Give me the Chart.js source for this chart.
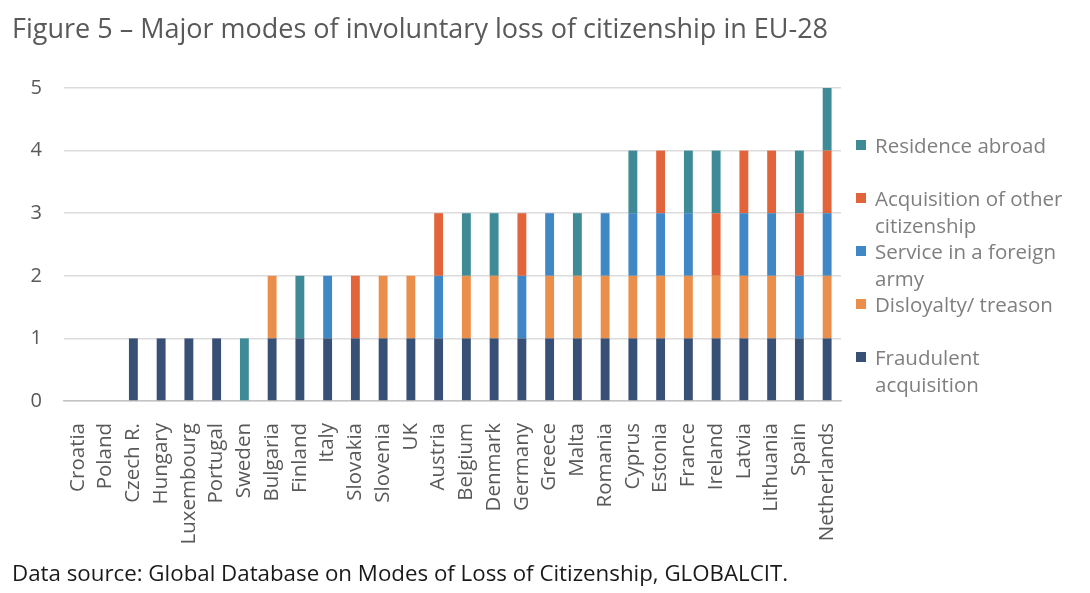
<!DOCTYPE html>
<html lang="en">
<head>
    <meta charset="UTF-8">
    <title>Figure 5 – Major modes of involuntary loss of citizenship in EU-28</title>
    <script src="https://cdn.jsdelivr.net/npm/chart.js"></script>
    <style>
        html, body {
            margin: 0;
            padding: 0;
            background: #ffffff;
            font-family: 'Open Sans', sans-serif;
        }
        .frame {
            position: relative;
            width: 1090px;
            height: 593px;
            overflow: hidden;
        }
        .frame canvas {
            position: absolute;
            left: 0;
            top: 0;
        }
        .title {
            position: absolute;
            left: 12px;
            top: 10px;
            font-size: 27px;
            line-height: 36px;
            color: #595959;
            white-space: nowrap;
        }
        .source {
            position: absolute;
            left: 12px;
            top: 558px;
            font-size: 22.3px;
            line-height: 30px;
            color: #1a1a1a;
            white-space: nowrap;
        }
        .legend-item {
            position: absolute;
            left: 856px;
            font-size: 20.5px;
            line-height: 26.5px;
            color: #7f7f7f;
            padding-left: 19px;
            white-space: nowrap;
        }
        .legend-item .swatch {
            position: absolute;
            left: 0;
            top: 8px;
            width: 10px;
            height: 10px;
        }
    </style>
</head>
<body>
    <div class="frame">
        <canvas id="lossChart" width="1090" height="593"></canvas>
        <div class="title">Figure 5 – Major modes of involuntary loss of citizenship in EU-28</div>
        <div id="legend"></div>
        <div class="source">Data source: Global Database on Modes of Loss of Citizenship, GLOBALCIT.</div>
    </div>

    <script>
        // Countries, in the order shown on the x axis
        const countries = ['Croatia', 'Poland', 'Czech R.', 'Hungary', 'Luxembourg', 'Portugal', 'Sweden',
            'Bulgaria', 'Finland', 'Italy', 'Slovakia', 'Slovenia', 'UK', 'Austria', 'Belgium', 'Denmark',
            'Germany', 'Greece', 'Malta', 'Romania', 'Cyprus', 'Estonia', 'France', 'Ireland', 'Latvia',
            'Lithuania', 'Spain', 'Netherlands'];

        // One value per country: 1 = the mode exists, 0 = it does not
        const fraudulent  = [0,0,1,1,1,1,0,1,1,1,1,1,1,1,1,1,1,1,1,1,1,1,1,1,1,1,1,1];
        const disloyalty  = [0,0,0,0,0,0,0,1,0,0,0,1,1,0,1,1,0,1,1,1,1,1,1,1,1,1,0,1];
        const foreignArmy = [0,0,0,0,0,0,0,0,0,1,0,0,0,1,0,0,1,1,0,1,1,1,1,0,1,1,1,1];
        const otherCitizenship = [0,0,0,0,0,0,0,0,0,0,1,0,0,1,0,0,1,0,0,0,0,1,0,1,1,1,1,1];
        const residenceAbroad  = [0,0,0,0,0,0,1,0,1,0,0,0,0,0,1,1,0,0,1,0,1,0,1,1,0,0,1,1];

        const yTicks = [0, 1, 2, 3, 4, 5];

        const series = [
            { label: ['Fraudulent', 'acquisition'], data: fraudulent, color: '#385075' },
            { label: ['Disloyalty/ treason'], data: disloyalty, color: '#ea8f4b' },
            { label: ['Service in a foreign', 'army'], data: foreignArmy, color: '#3f88c5' },
            { label: ['Acquisition of other', 'citizenship'], data: otherCitizenship, color: '#e2643a' },
            { label: ['Residence abroad'], data: residenceAbroad, color: '#3e8b97' }
        ];

        Chart.defaults.font.family = "'Open Sans', sans-serif";

        new Chart(document.getElementById('lossChart'), {
            type: 'bar',
            data: {
                labels: countries,
                datasets: series.map(s => ({
                    label: s.label.join(' '),
                    data: s.data,
                    backgroundColor: s.color,
                    borderWidth: 0,
                    categoryPercentage: 1,
                    barPercentage: 0.32
                }))
            },
            options: {
                responsive: false,
                animation: false,
                layout: { padding: { left: 0, right: 249, top: 88, bottom: 0 } },
                plugins: {
                    legend: { display: false },
                    tooltip: { enabled: false }
                },
                scales: {
                    x: {
                        stacked: true,
                        grid: { display: false },
                        border: { color: '#c4c4c4', width: 1.5 },
                        ticks: {
                            autoSkip: false,
                            minRotation: 90,
                            maxRotation: 90,
                            padding: 14,
                            color: '#595959',
                            font: { size: 20.5 }
                        },
                        afterFit: scale => { scale.height = 192; }
                    },
                    y: {
                        stacked: true,
                        min: 0,
                        max: 5,
                        afterBuildTicks: scale => { scale.ticks = yTicks.map(v => ({ value: v })); },
                        grid: { color: '#dcdcdc', lineWidth: 1.5, drawTicks: false },
                        border: { display: false },
                        ticks: {
                            padding: 22,
                            color: '#595959',
                            font: { size: 20 }
                        },
                        afterFit: scale => { scale.width = 64; }
                    }
                }
            }
        });

        // Legend on the right, top entry is the last series
        const legendTops = [132, 185, 238, 291, 344];
        const legendDiv = document.getElementById('legend');
        series.slice().reverse().forEach((s, i) => {
            const item = document.createElement('div');
            item.className = 'legend-item';
            item.style.top = legendTops[i] + 'px';
            item.innerHTML = '<span class="swatch" style="background:' + s.color + '"></span>' + s.label.join('<br>');
            legendDiv.appendChild(item);
        });
    </script>
</body>
</html>
